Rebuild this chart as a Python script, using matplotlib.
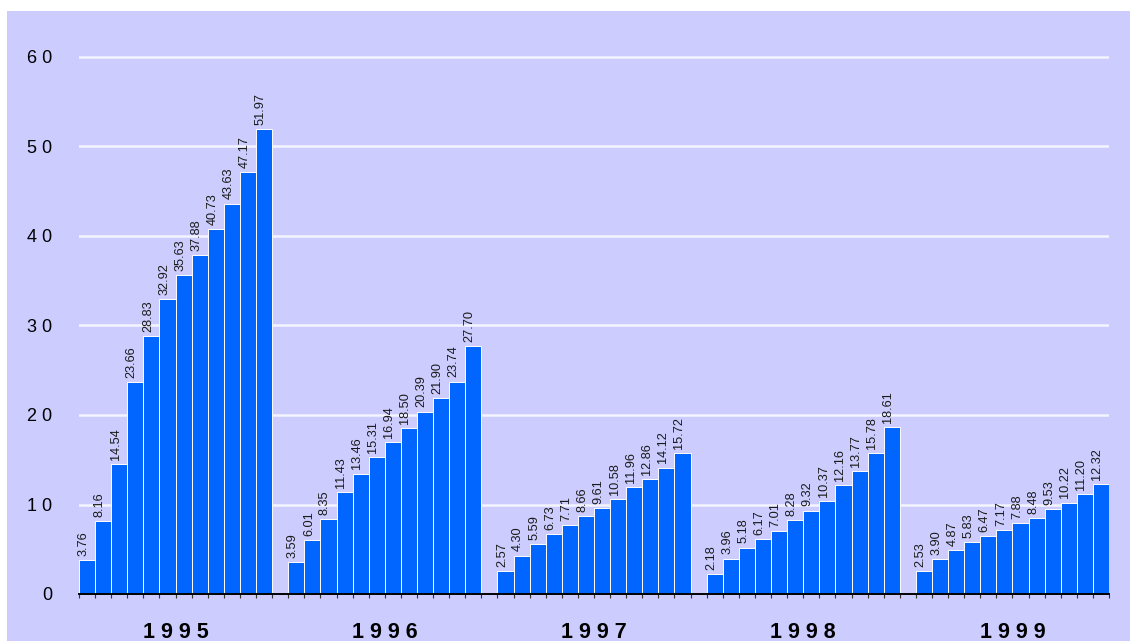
import matplotlib
matplotlib.use("Agg")
import matplotlib.pyplot as plt
from matplotlib.patches import Rectangle

years = ["1995", "1996", "1997", "1998", "1999"]
values_1995 = [3.76, 8.16, 14.54, 23.66, 28.83, 32.92, 35.63, 37.88, 40.73, 43.63, 47.17, 51.97]
values_1996 = [3.59, 6.01, 8.35, 11.43, 13.46, 15.31, 16.94, 18.50, 20.39, 21.90, 23.74, 27.70]
values_1997 = [2.57, 4.30, 5.59, 6.73, 7.71, 8.66, 9.61, 10.58, 11.96, 12.86, 14.12, 15.72]
values_1998 = [2.18, 3.96, 5.18, 6.17, 7.01, 8.28, 9.32, 10.37, 12.16, 13.77, 15.78, 18.61]
values_1999 = [2.53, 3.90, 4.87, 5.83, 6.47, 7.17, 7.88, 8.48, 9.53, 10.22, 11.20, 12.32]
series = [values_1995, values_1996, values_1997, values_1998, values_1999]
y_ticks = [0, 10, 20, 30, 40, 50, 60]

BG = "#CCCCFF"
BAR = "#0066FF"
W, H = 1130, 641

plt.rcParams["font.family"] = ["Liberation Sans", "DejaVu Sans"]

fig = plt.figure(figsize=(W / 100, H / 100), dpi=100)
fig.patch.set_facecolor("white")
fig.patches.append(Rectangle((7 / W, 0), 1, (H - 11) / H, transform=fig.transFigure,
                             facecolor=BG, edgecolor="none", zorder=-10))

px_per_unit = 8.95
ymax = 65
ax = fig.add_axes([79 / W, 47 / H, 1030 / W, ymax * px_per_unit / H])
ax.set_zorder(1)
ax.set_facecolor(BG)
for s in ax.spines.values():
    s.set_visible(False)

n_per = 12
slots = n_per * len(series) + len(series) - 1
ax.set_xlim(0, slots)
ax.set_ylim(0, ymax)

# bars, one empty slot between consecutive years
for g, vals in enumerate(series):
    start = g * (n_per + 1)
    xs = [start + i + 0.5 for i in range(n_per)]
    ax.bar(xs, vals, width=1.0, color=BAR, edgecolor="white", linewidth=0.7, zorder=3)
    for x, v in zip(xs, vals):
        ax.annotate(f"{v:.2f}", xy=(x, v), xytext=(-2.5, 3), textcoords="offset points",
                    rotation=90, ha="center", va="bottom", fontsize=9.2,
                    color="#1a1a1a", zorder=4)
    ax.annotate(" ".join(years[g]), xy=(start + n_per / 2, 0),
                xycoords=("data", "axes fraction"), xytext=(0, -27.5),
                textcoords="offset points", ha="center", va="center",
                fontsize=15.5, fontweight="bold", color="black")

# white horizontal gridlines
for t in y_ticks:
    ax.axhline(t, color="#F4F4FF", linewidth=1.8, zorder=1)

# baseline and slot ticks
ax.axhline(0, color="black", linewidth=1.4, zorder=5, clip_on=False)
ax.set_xticks(range(slots + 1))
ax.set_xticklabels([])
ax.tick_params(axis="x", length=3, width=0.8, color="#333333", direction="out")

ax.set_yticks(y_ticks)
ax.set_yticklabels([" ".join(str(t)) for t in y_ticks], fontsize=13, color="black")
ax.tick_params(axis="y", length=0, pad=19)

fig.savefig("out.png", dpi=100, facecolor=fig.get_facecolor())
